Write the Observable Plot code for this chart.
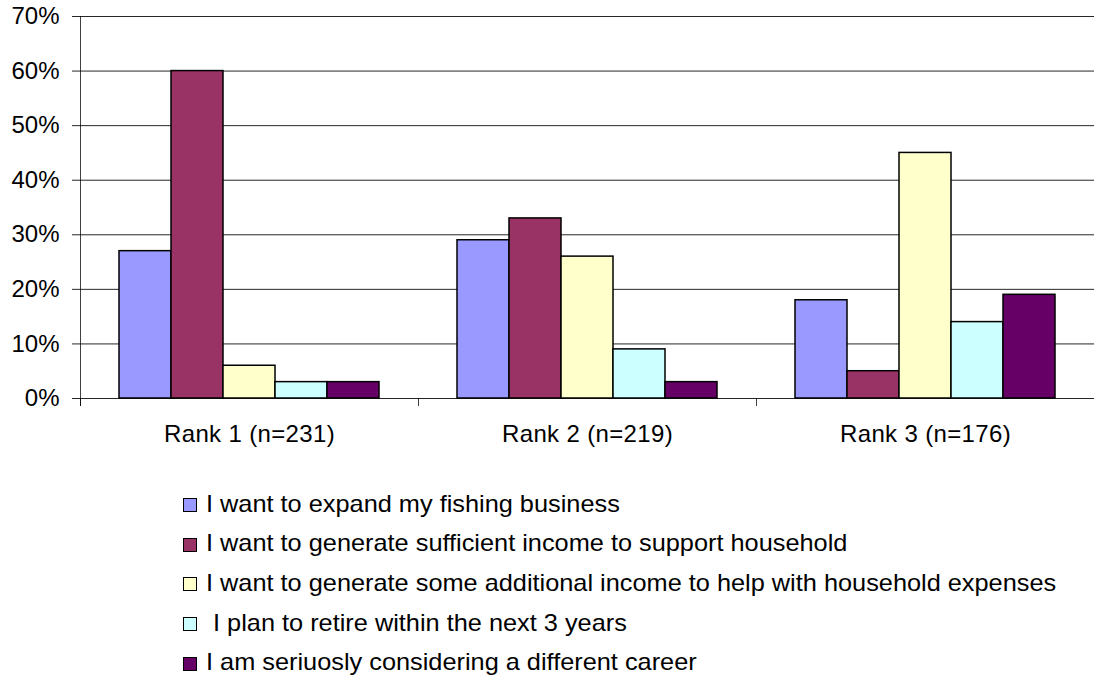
<!DOCTYPE html>
<html>
<head>
<meta charset="utf-8">
<script src="https://cdn.jsdelivr.net/npm/d3@7"></script>
<script src="https://cdn.jsdelivr.net/npm/@observablehq/plot@0.6"></script>
<style>
  html, body { margin: 0; padding: 0; background: #fff; }
  body { width: 1094px; height: 677px; position: relative; overflow: hidden; font-family: "Liberation Sans", Arial, sans-serif; }
  #chart { position: absolute; left: 0; top: 0; }
  #legend { position: absolute; left: 183px; top: 484px; }
  .row { display: flex; align-items: center; height: 39.6px; font-size: 24px; line-height: 28px; color: #000; white-space: pre; }
  .sw { width: 12px; height: 12px; border: 1.5px solid #000; margin-right: 9px; margin-top: 3px; flex: none; }
  .lt { display: inline-block; transform: scaleX(1.055); transform-origin: left center; }
  g[aria-label="fx-axis tick label"] text { letter-spacing: 0.35px; }
</style>
</head>
<body>
<div id="chart"></div>
<div id="legend"></div>
<script>
const ranks = ["Rank 1 (n=231)", "Rank 2 (n=219)", "Rank 3 (n=176)"];
const seriesNames = [
  "I want to expand my fishing business",
  "I want to generate sufficient income to support household",
  "I want to generate some additional income to help with household expenses",
  " I plan to retire within the next 3 years",
  "I am seriuosly considering a different career"
];
const seriesColors = ["#9999FF", "#993366", "#FFFFCC", "#CCFFFF", "#660066"];
const expandBusiness = [27, 29, 18];
const sufficientIncome = [60, 33, 5];
const additionalIncome = [6, 26, 45];
const retireSoon = [3, 9, 14];
const differentCareer = [3, 3, 19];
const yTicks = [0, 0.1, 0.2, 0.3, 0.4, 0.5, 0.6, 0.7];

const seriesValues = [expandBusiness, sufficientIncome, additionalIncome, retireSoon, differentCareer];
const data = [];
ranks.forEach((r, i) => {
  seriesNames.forEach((s, j) => {
    data.push({rank: r, series: s, value: seriesValues[j][i] / 100});
  });
});

const H = 460, MT = 16, MB = 62;
const plot = Plot.plot({
  width: 1094,
  height: H,
  marginLeft: 79,
  marginRight: 0,
  marginTop: MT,
  marginBottom: MB,
  style: {fontFamily: "'Liberation Sans', Arial, sans-serif", fontSize: "24px", color: "#000", background: "#fff"},
  fx: {domain: ranks, padding: 0, label: null},
  x: {domain: seriesNames, paddingInner: 0, paddingOuter: 0.745, axis: null},
  y: {domain: [0, 0.7], label: null},
  color: {domain: seriesNames, range: seriesColors},
  marks: [
    Plot.gridY(yTicks, {stroke: "#000", strokeOpacity: 0.85, strokeWidth: 1}),
    Plot.barY(data, {fx: "rank", x: "series", y: "value", fill: "series", stroke: "#000", strokeWidth: 1.5}),
    Plot.axisY(yTicks, {tickSize: 8, tickPadding: 13, tickFormat: d3.format(".0%"), fontSize: 24, stroke: "#000", strokeOpacity: 0.85, label: null}),
    Plot.frame({anchor: "left", facetAnchor: "left", insetBottom: -7, stroke: "#000", strokeOpacity: 0.75}),
    Plot.frame({anchor: "left", insetTop: H - MT - MB, insetBottom: -7, stroke: "#000", strokeOpacity: 0.75}),
    Plot.axisFx({anchor: "bottom", tickSize: 0, tickPadding: 26, fontSize: 24, label: null})
  ]
});
document.getElementById("chart").appendChild(plot);

const legend = document.getElementById("legend");
seriesNames.forEach((s, j) => {
  const row = document.createElement("div");
  row.className = "row";
  const sw = document.createElement("span");
  sw.className = "sw";
  sw.style.background = seriesColors[j];
  const t = document.createElement("span");
  t.className = "lt";
  t.textContent = s;
  row.appendChild(sw);
  row.appendChild(t);
  legend.appendChild(row);
});
</script>
</body>
</html>
